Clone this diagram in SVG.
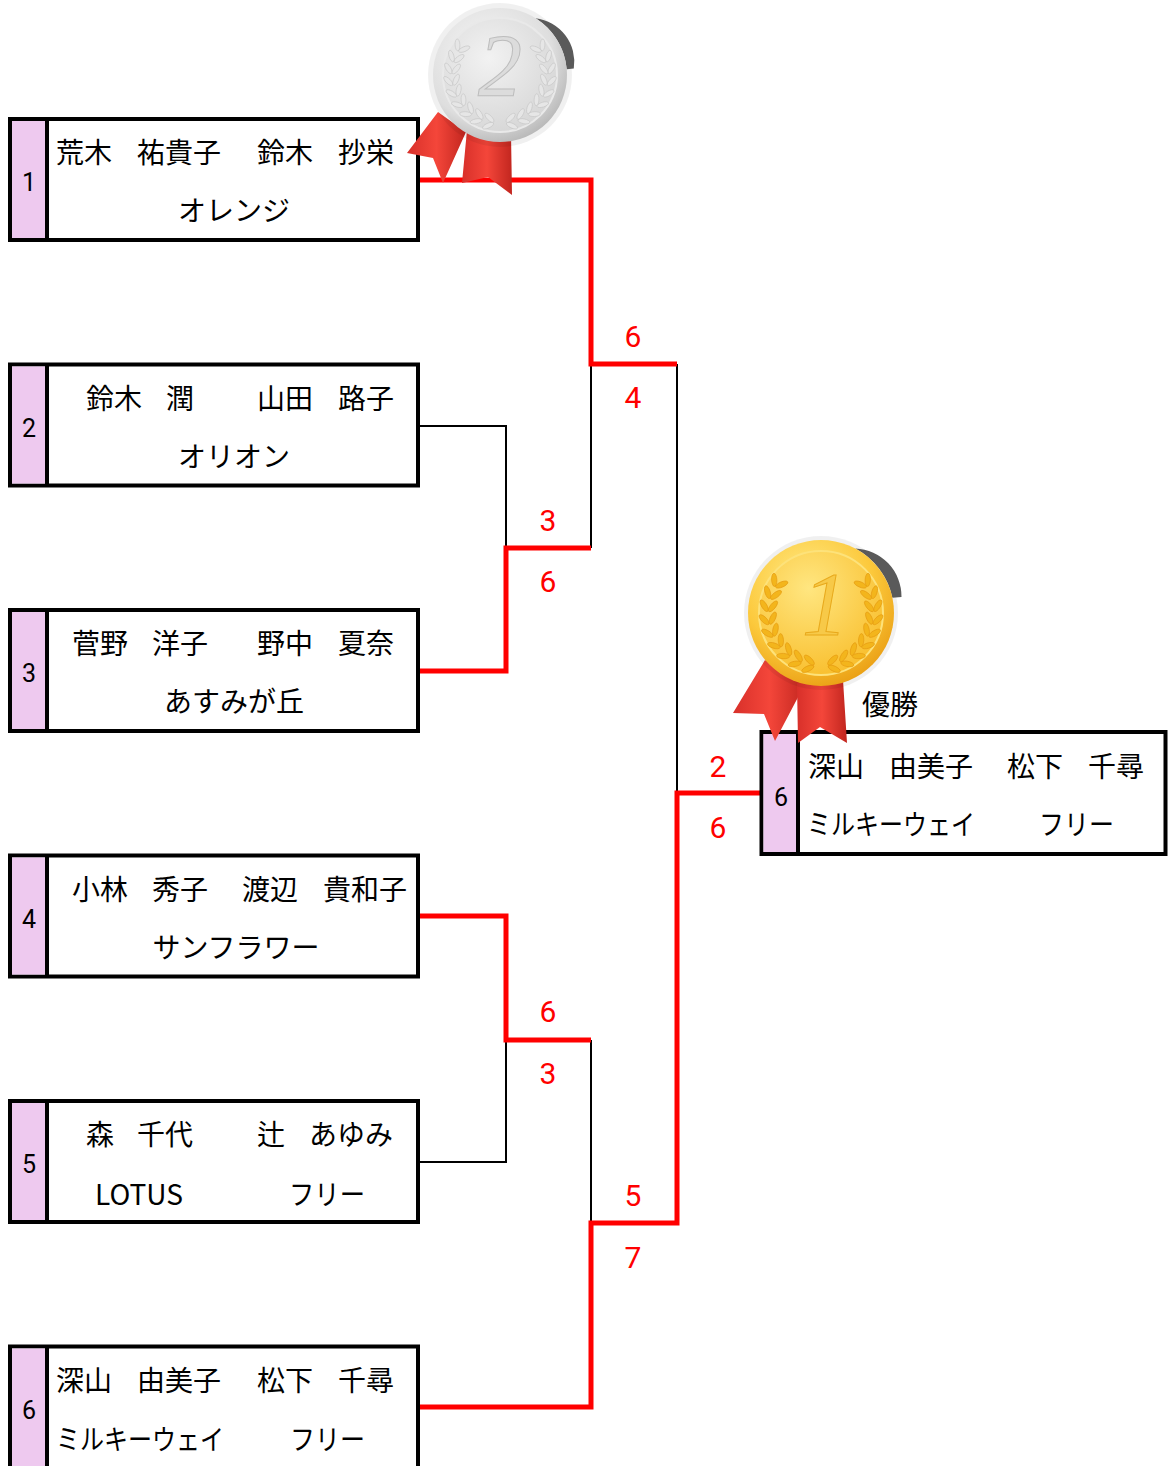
<svg xmlns="http://www.w3.org/2000/svg" xmlns:xlink="http://www.w3.org/1999/xlink" width="1171" height="1466" viewBox="0 0 1171 1466">
<style>
.box{fill:#fff;stroke:#000;stroke-width:4}
.strip{fill:#eec9ef}
.dv{stroke:#000;stroke-width:4}
.t{font-family:"Noto Sans CJK JP","Noto Sans",sans-serif;font-size:28px;fill:#000}
.c{text-anchor:middle}
.n{font-family:Roboto,"Liberation Sans",sans-serif;font-size:25px;fill:#000;text-anchor:middle}
.s{font-family:Roboto,"Liberation Sans",sans-serif;font-size:30px;fill:#f00;text-anchor:middle}
.w{fill:none;stroke:#f00;stroke-width:5;stroke-linejoin:miter}
.l{fill:none;stroke:#000;stroke-width:2}
.sh{fill:#5a5a5a}
</style>
<defs>
<radialGradient id="silv" cx="0.4" cy="0.35" r="0.7">
<stop offset="0" stop-color="#f7f7f7"/><stop offset="0.7" stop-color="#dedede"/><stop offset="1" stop-color="#b5b5b5"/>
</radialGradient>
<radialGradient id="silvIn" cx="0.4" cy="0.35" r="0.75">
<stop offset="0" stop-color="#f2f2f2"/><stop offset="1" stop-color="#d4d4d4"/>
</radialGradient>
<radialGradient id="gold" cx="0.4" cy="0.3" r="0.75">
<stop offset="0" stop-color="#ffec8a"/><stop offset="0.6" stop-color="#fcc93c"/><stop offset="1" stop-color="#e99d12"/>
</radialGradient>
<radialGradient id="goldIn" cx="0.4" cy="0.3" r="0.8">
<stop offset="0" stop-color="#ffe680"/><stop offset="1" stop-color="#f8bb26"/>
</radialGradient>
<linearGradient id="rib" x1="0" y1="0" x2="1" y2="0">
<stop offset="0" stop-color="#d8302a"/><stop offset="0.5" stop-color="#f4463a"/><stop offset="1" stop-color="#c2261f"/>
</linearGradient>
<g id="lp">
<ellipse cx="3" cy="-4" rx="6" ry="2.4" transform="rotate(-35 3 -4)"/>
<ellipse cx="3" cy="4" rx="6" ry="2.4" transform="rotate(35 3 4)"/>
</g>
<g id="branch">
<use xlink:href="#lp" transform="rotate(100) translate(48,0) rotate(90)"/>
<use xlink:href="#lp" transform="rotate(114) translate(48,0) rotate(90)"/>
<use xlink:href="#lp" transform="rotate(128) translate(48,0) rotate(90)"/>
<use xlink:href="#lp" transform="rotate(142) translate(48,0) rotate(90)"/>
<use xlink:href="#lp" transform="rotate(156) translate(48,0) rotate(90)"/>
<use xlink:href="#lp" transform="rotate(170) translate(48,0) rotate(90)"/>
<use xlink:href="#lp" transform="rotate(184) translate(48,0) rotate(90)"/>
<use xlink:href="#lp" transform="rotate(198) translate(48,0) rotate(90)"/>
<use xlink:href="#lp" transform="rotate(212) translate(48,0) rotate(90)"/>
</g>
</defs>
<rect width="1171" height="1466" fill="#fff"/>

<g id="connectors">
<polyline class="l" points="419,426 506,426 506,548"/>
<line class="l" x1="591" y1="548" x2="591" y2="364"/>
<line class="l" x1="677" y1="364" x2="677" y2="793"/>
<polyline class="l" points="419,1162 506,1162 506,1040"/>
<line class="l" x1="591" y1="1040" x2="591" y2="1223"/>
<polyline class="w" points="419,180 591,180 591,364 677,364"/>
<polyline class="w" points="419,671 506,671 506,548 591,548"/>
<polyline class="w" points="419,916 506,916 506,1040 591,1040"/>
<polyline class="w" points="419,1407 591,1407 591,1223 677,1223 677,793 760,793"/>
<text class="s" x="633" y="347">6</text>
<text class="s" x="633" y="408">4</text>
<text class="s" x="548" y="531">3</text>
<text class="s" x="548" y="592">6</text>
<text class="s" x="548" y="1022">6</text>
<text class="s" x="548" y="1084">3</text>
<text class="s" x="633" y="1206">5</text>
<text class="s" x="633" y="1268">7</text>
<text class="s" x="718" y="777">2</text>
<text class="s" x="718" y="838">6</text>
</g>

<g id="team1">
<rect class="box" x="10" y="119" width="408" height="121"/>
<rect class="strip" x="12" y="121" width="33" height="117"/>
<line class="dv" x1="47" y1="119" x2="47" y2="240"/>
<text class="n" x="29" y="191">1</text>
<text class="t" y="163"><tspan x="56">荒木</tspan><tspan x="137">祐貴子</tspan><tspan x="257">鈴木</tspan><tspan x="338">抄栄</tspan></text>
<text class="t c" x="234" y="221">オレンジ</text>
</g>

<g id="team2">
<rect class="box" x="10" y="364.5" width="408" height="121"/>
<rect class="strip" x="12" y="366.5" width="33" height="117"/>
<line class="dv" x1="47" y1="364.5" x2="47" y2="485.5"/>
<text class="n" x="29" y="436.5">2</text>
<text class="t" y="408.5"><tspan x="86">鈴木</tspan><tspan x="166">潤</tspan><tspan x="257">山田</tspan><tspan x="338">路子</tspan></text>
<text class="t c" x="234" y="466.5">オリオン</text>
</g>

<g id="team3">
<rect class="box" x="10" y="610" width="408" height="121"/>
<rect class="strip" x="12" y="612" width="33" height="117"/>
<line class="dv" x1="47" y1="610" x2="47" y2="731"/>
<text class="n" x="29" y="682">3</text>
<text class="t" y="654"><tspan x="72">菅野</tspan><tspan x="152">洋子</tspan><tspan x="257">野中</tspan><tspan x="338">夏奈</tspan></text>
<text class="t c" x="234" y="712">あすみが丘</text>
</g>

<g id="team4">
<rect class="box" x="10" y="855.5" width="408" height="121"/>
<rect class="strip" x="12" y="857.5" width="33" height="117"/>
<line class="dv" x1="47" y1="855.5" x2="47" y2="976.5"/>
<text class="n" x="29" y="927.5">4</text>
<text class="t" y="899.5"><tspan x="72">小林</tspan><tspan x="152">秀子</tspan><tspan x="242">渡辺</tspan><tspan x="323">貴和子</tspan></text>
<text class="t c" x="236" y="957.5">サンフラワー</text>
</g>

<g id="team5">
<rect class="box" x="10" y="1101" width="408" height="121"/>
<rect class="strip" x="12" y="1103" width="33" height="117"/>
<line class="dv" x1="47" y1="1101" x2="47" y2="1222"/>
<text class="n" x="29" y="1173">5</text>
<text class="t" y="1145"><tspan x="86">森</tspan><tspan x="137">千代</tspan><tspan x="257">辻</tspan><tspan x="309">あゆみ</tspan></text>
<text class="t" y="1205"><tspan x="95" textLength="88" lengthAdjust="spacingAndGlyphs">LOTUS</tspan></text>
<text class="t" x="289" y="1205" textLength="76" lengthAdjust="spacingAndGlyphs">フリー</text>
</g>

<g id="team6">
<rect class="box" x="10" y="1346.5" width="408" height="130"/>
<rect class="strip" x="12" y="1348.5" width="33" height="126"/>
<line class="dv" x1="47" y1="1346.5" x2="47" y2="1476"/>
<text class="n" x="29" y="1418.5">6</text>
<text class="t" y="1390.5"><tspan x="56">深山</tspan><tspan x="137">由美子</tspan><tspan x="257">松下</tspan><tspan x="338">千尋</tspan></text>
<text class="t" x="56" y="1449.5" textLength="168" lengthAdjust="spacingAndGlyphs">ミルキーウェイ</text>
<text class="t" x="290" y="1449.5" textLength="75" lengthAdjust="spacingAndGlyphs">フリー</text>
</g>

<g id="winner">
<rect class="box" x="761.5" y="732" width="404" height="122"/>
<rect class="strip" x="763.5" y="734" width="33" height="118"/>
<line class="dv" x1="798" y1="732" x2="798" y2="854"/>
<text class="n" x="781" y="806">6</text>
<text class="t" y="777"><tspan x="808">深山</tspan><tspan x="889">由美子</tspan><tspan x="1007">松下</tspan><tspan x="1088">千尋</tspan></text>
<text class="t" x="807" y="835" textLength="168" lengthAdjust="spacingAndGlyphs">ミルキーウェイ</text>
<text class="t" x="1039" y="835" textLength="75" lengthAdjust="spacingAndGlyphs">フリー</text>
<text class="t" x="862" y="715">優勝</text>
</g>

<g id="silver-medal">
<polygon points="438,112 466,132 443,183 433,158 407,153" fill="url(#rib)"/>
<polygon points="467,130 511,134 512,195 488,177 462,183" fill="url(#rib)"/>
<g transform="translate(500,75)">
<circle r="72" fill="#000" opacity="0.06"/>
<path class="sh" d="M35.5,-56.8 A44,44 0 0 1 73.8,-6.5 L66.7,-5.8 A67,67 0 0 0 35.5,-56.8 Z"/>
<circle r="67" fill="url(#silv)"/>
<circle r="57" fill="url(#silvIn)" stroke="#e9e9e9" stroke-width="2"/>
<use xlink:href="#branch" fill="#e6e6e6" stroke="#c4c4c4" stroke-width="0.6"/>
<use xlink:href="#branch" transform="scale(-1,1)" fill="#e6e6e6" stroke="#c4c4c4" stroke-width="0.6"/>
<text x="0" y="20" font-family="'Liberation Serif',serif" font-style="italic" font-size="88" text-anchor="middle" fill="#dcdcdc" stroke="#bdbdbd" stroke-width="1">2</text>
</g>
</g>

<g id="gold-medal">
<polygon points="765,660 806,682 775,741 764,714 733,713" fill="url(#rib)"/>
<polygon points="797,683 843,680 847,743 820,727 798,743" fill="url(#rib)"/>
<g transform="translate(821,613)">
<circle r="77" fill="#000" opacity="0.06"/>
<path class="sh" d="M34.3,-64.5 A48,48 0 0 1 80.5,-16.0 L71.4,-15.2 A73,73 0 0 0 34.3,-64.5 Z"/>
<circle r="73" fill="url(#gold)"/>
<circle r="62" fill="url(#goldIn)" stroke="#fde27a" stroke-width="2"/>
<g transform="scale(1.1)">
<use xlink:href="#branch" fill="#f3b51c" stroke="#e59a10" stroke-width="0.6"/>
<use xlink:href="#branch" transform="scale(-1,1)" fill="#f3b51c" stroke="#e59a10" stroke-width="0.6"/>
</g>
<text x="4" y="22" font-family="'Liberation Serif',serif" font-style="italic" font-size="92" text-anchor="middle" fill="#f7c948" stroke="#e8a91c" stroke-width="1">1</text>
</g>
</g>
</svg>
